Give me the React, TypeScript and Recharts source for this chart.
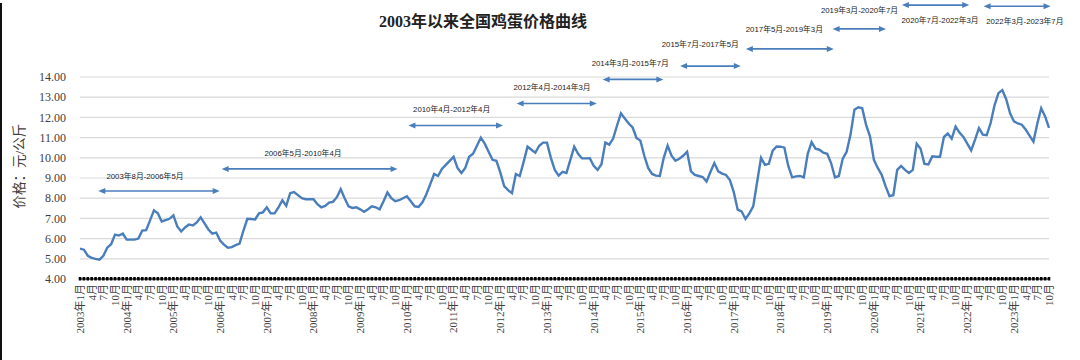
import { LineChart, Line, XAxis, YAxis, CartesianGrid, ReferenceLine, ReferenceDot } from "recharts";

// monthly national egg price, 元/公斤
const y2003 = [5.5, 5.45, 5.15, 5.05, 5.0, 4.96, 5.15, 5.55, 5.72, 6.2, 6.15, 6.25];
const y2004 = [5.95, 5.95, 5.95, 6.0, 6.4, 6.42, 6.9, 7.4, 7.25, 6.85, 6.92, 6.98];
const y2005 = [7.15, 6.6, 6.35, 6.55, 6.7, 6.65, 6.8, 7.05, 6.75, 6.45, 6.25, 6.3];
const y2006 = [5.9, 5.7, 5.55, 5.58, 5.68, 5.75, 6.4, 6.98, 6.97, 6.95, 7.25, 7.3];
const y2007 = [7.55, 7.25, 7.25, 7.55, 7.9, 7.62, 8.25, 8.3, 8.15, 8.0, 7.95, 7.95];
const y2008 = [7.95, 7.7, 7.55, 7.62, 7.78, 7.82, 8.05, 8.45, 8.0, 7.6, 7.52, 7.55];
const y2009 = [7.45, 7.33, 7.45, 7.6, 7.55, 7.45, 7.85, 8.28, 8.0, 7.85, 7.9, 8.0];
const y2010 = [8.1, 7.85, 7.6, 7.57, 7.8, 8.2, 8.7, 9.2, 9.1, 9.45, 9.65, 9.85];
const y2011 = [10.05, 9.5, 9.25, 9.5, 10.05, 10.2, 10.6, 11.0, 10.7, 10.3, 9.9, 9.85];
const y2012 = [9.28, 8.6, 8.4, 8.25, 9.2, 9.1, 9.8, 10.55, 10.4, 10.25, 10.6, 10.75];
const y2013 = [10.75, 10.0, 9.4, 9.12, 9.3, 9.25, 9.9, 10.55, 10.2, 9.97, 9.97, 9.98];
const y2014 = [9.6, 9.4, 9.68, 10.75, 10.65, 10.95, 11.6, 12.2, 11.95, 11.7, 11.5, 10.98];
const y2015 = [10.85, 10.1, 9.5, 9.2, 9.12, 9.1, 10.0, 10.6, 10.1, 9.85, 9.95, 10.1];
const y2016 = [10.3, 9.33, 9.15, 9.1, 9.05, 8.83, 9.3, 9.74, 9.33, 9.22, 9.15, 8.9];
const y2017 = [8.3, 7.43, 7.35, 6.97, 7.25, 7.6, 8.8, 10.0, 9.65, 9.7, 10.35, 10.56];
const y2018 = [10.55, 10.5, 9.6, 9.03, 9.08, 9.1, 9.03, 10.2, 10.78, 10.45, 10.4, 10.25];
const y2019 = [10.2, 9.74, 9.03, 9.1, 9.96, 10.3, 11.15, 12.38, 12.5, 12.45, 11.63, 11.06];
const y2020 = [9.9, 9.5, 9.16, 8.6, 8.1, 8.15, 9.4, 9.6, 9.4, 9.25, 9.4, 10.7];
const y2021 = [10.45, 9.7, 9.67, 10.07, 10.05, 10.05, 11.03, 11.2, 10.95, 11.55, 11.25, 11.03];
const y2022 = [10.7, 10.37, 10.9, 11.47, 11.15, 11.12, 11.72, 12.6, 13.2, 13.35, 12.9, 12.2];
const y2023 = [11.8, 11.7, 11.64, 11.4, 11.1, 10.8, 11.7, 12.45, 12.05, 11.48];

const prices = [
  ...y2003, ...y2004, ...y2005, ...y2006, ...y2007, ...y2008, ...y2009,
  ...y2010, ...y2011, ...y2012, ...y2013, ...y2014, ...y2015, ...y2016,
  ...y2017, ...y2018, ...y2019, ...y2020, ...y2021, ...y2022, ...y2023,
];

const startYear = 2003;
const monthLabels = prices.map((_, i) =>
  i % 12 === 0 ? `${startYear + i / 12}年1月` : `${(i % 12) + 1}月`
);
const monthTicks = prices.map((_, i) => i);
const priceTicks = [4, 5, 6, 7, 8, 9, 10, 11, 12, 13, 14];

// periods marked with arrows (month index from 2003年1月, price level)
const periodLabels = [
  "2003年8月-2006年5月",
  "2006年5月-2010年4月",
  "2010年4月-2012年4月",
  "2012年4月-2014年3月",
  "2014年3月-2015年7月",
  "2015年7月-2017年5月",
  "2017年5月-2019年3月",
  "2019年3月-2020年7月",
  "2020年7月-2022年3月",
  "2022年3月-2023年7月",
];
const periodFrom = [4.7, 36.4, 84.4, 112.2, 134.3, 154.2, 171.1, 193.4, 211.2, 232.2];
const periodTo = [35.9, 81.6, 108.7, 132.8, 149.9, 169.8, 193.7, 207.1, 228.5, 249.4];
const periodLevel = [8.36, 9.45, 11.6, 12.69, 13.88, 14.54, 15.39, 16.38, 17.56, 17.5];
const labelAt = [16.7, 57.3, 95.5, 121.3, 141.4, 159.4, 181, 200.3, 221, 242.8];
const labelLevel = [9.08, 10.2, 12.38, 13.46, 14.66, 15.6, 16.34, 17.28, 16.79, 16.75];

const data = prices.map((p, i) => ({ m: i, price: p }));

const BLUE = "#4a7ebb";
const SERIF = "'Liberation Serif', 'Noto Sans CJK SC', serif";
const SANS = "'Liberation Sans', 'Noto Sans CJK SC', sans-serif";

function MonthTick({ x, y, payload }: any) {
  const i = payload.value;
  return (
    <g>
      <rect x={x - 1.3} y={y - 2} width={2.6} height={3.5} fill="#000" />
      {i % 3 === 0 && (
        <text
          transform={`translate(${x},${y + 5}) rotate(-90)`}
          textAnchor="end"
          dy="0.35em"
          fontSize={11}
          fontFamily={SERIF}
          fill="#404040"
        >
          {monthLabels[i]}
        </text>
      )}
    </g>
  );
}

function PriceTick({ x, y, payload }: any) {
  return (
    <text x={x - 14} y={y} dy="0.35em" textAnchor="end" fontSize={12} fontFamily={SERIF} fill="#404040">
      {Number(payload.value).toFixed(2)}
    </text>
  );
}

function Arrow(props: any) {
  const { x1, y1, x2, y2 } = props;
  const h = 7;
  const w = 3;
  return (
    <g>
      <line x1={x1 + h - 1} y1={y1} x2={x2 - h + 1} y2={y2} stroke={BLUE} strokeWidth={1.6} />
      <polygon points={`${x1},${y1} ${x1 + h},${y1 - w} ${x1 + h},${y1 + w}`} fill={BLUE} />
      <polygon points={`${x2},${y2} ${x2 - h},${y2 - w} ${x2 - h},${y2 + w}`} fill={BLUE} />
    </g>
  );
}

export default function App() {
  return (
    <div style={{ position: "absolute", left: 0, top: 0, width: 1080, height: 360, background: "#fff" }}>
      <div style={{ position: "absolute", left: 0, top: 3, width: 2, height: 357, background: "#111" }} />
      <div
        style={{
          position: "absolute",
          left: 283,
          top: 12,
          width: 400,
          textAlign: "center",
          fontFamily: SERIF,
          fontWeight: "bold",
          fontSize: 16,
          lineHeight: "20px",
          color: "#222",
        }}
      >
        2003年以来全国鸡蛋价格曲线
      </div>
      <div
        style={{
          position: "absolute",
          left: -40,
          top: 156,
          width: 120,
          height: 20,
          lineHeight: "20px",
          textAlign: "center",
          fontFamily: SERIF,
          fontSize: 13.5,
          color: "#404040",
          transform: "rotate(-90deg)",
        }}
      >
        价格：元/公斤
      </div>
      <LineChart
        width={1080}
        height={360}
        data={data}
        margin={{ top: 77, right: 31, bottom: 21, left: 20 }}
        style={{ position: "absolute", left: 0, top: 0 }}
      >
        <CartesianGrid vertical={false} stroke="#d9d9d9" strokeWidth={1.2} />
        <XAxis
          dataKey="m"
          type="number"
          domain={[0, 249]}
          ticks={monthTicks}
          interval={0}
          tick={<MonthTick />}
          tickLine={false}
          tickSize={0}
          tickMargin={0}
          axisLine={{ stroke: "#000", strokeWidth: 1 }}
          height={60}
        />
        <YAxis
          domain={[4, 14]}
          ticks={priceTicks}
          interval={0}
          tick={<PriceTick />}
          tickLine={false}
          tickSize={0}
          tickMargin={0}
          axisLine={false}
          width={60}
        />
        <Line
          type="linear"
          dataKey="price"
          stroke={BLUE}
          strokeWidth={2.4}
          dot={false}
          isAnimationActive={false}
        />
        {periodLabels.map((label, i) => (
          <ReferenceLine
            key={`a${i}`}
            segment={[
              { x: periodFrom[i], y: periodLevel[i] },
              { x: periodTo[i], y: periodLevel[i] },
            ]}
            ifOverflow="visible"
            shape={Arrow}
          />
        ))}
        {periodLabels.map((label, i) => (
          <ReferenceDot
            key={`t${i}`}
            x={labelAt[i]}
            y={labelLevel[i]}
            r={0}
            ifOverflow="visible"
            shape={(p: any) => (
              <text
                x={p.cx}
                y={p.cy}
                textAnchor="middle"
                dominantBaseline="central"
                fontSize={7.8}
                fontFamily={SANS}
                fill="#222"
              >
                {label}
              </text>
            )}
          />
        ))}
      </LineChart>
    </div>
  );
}
